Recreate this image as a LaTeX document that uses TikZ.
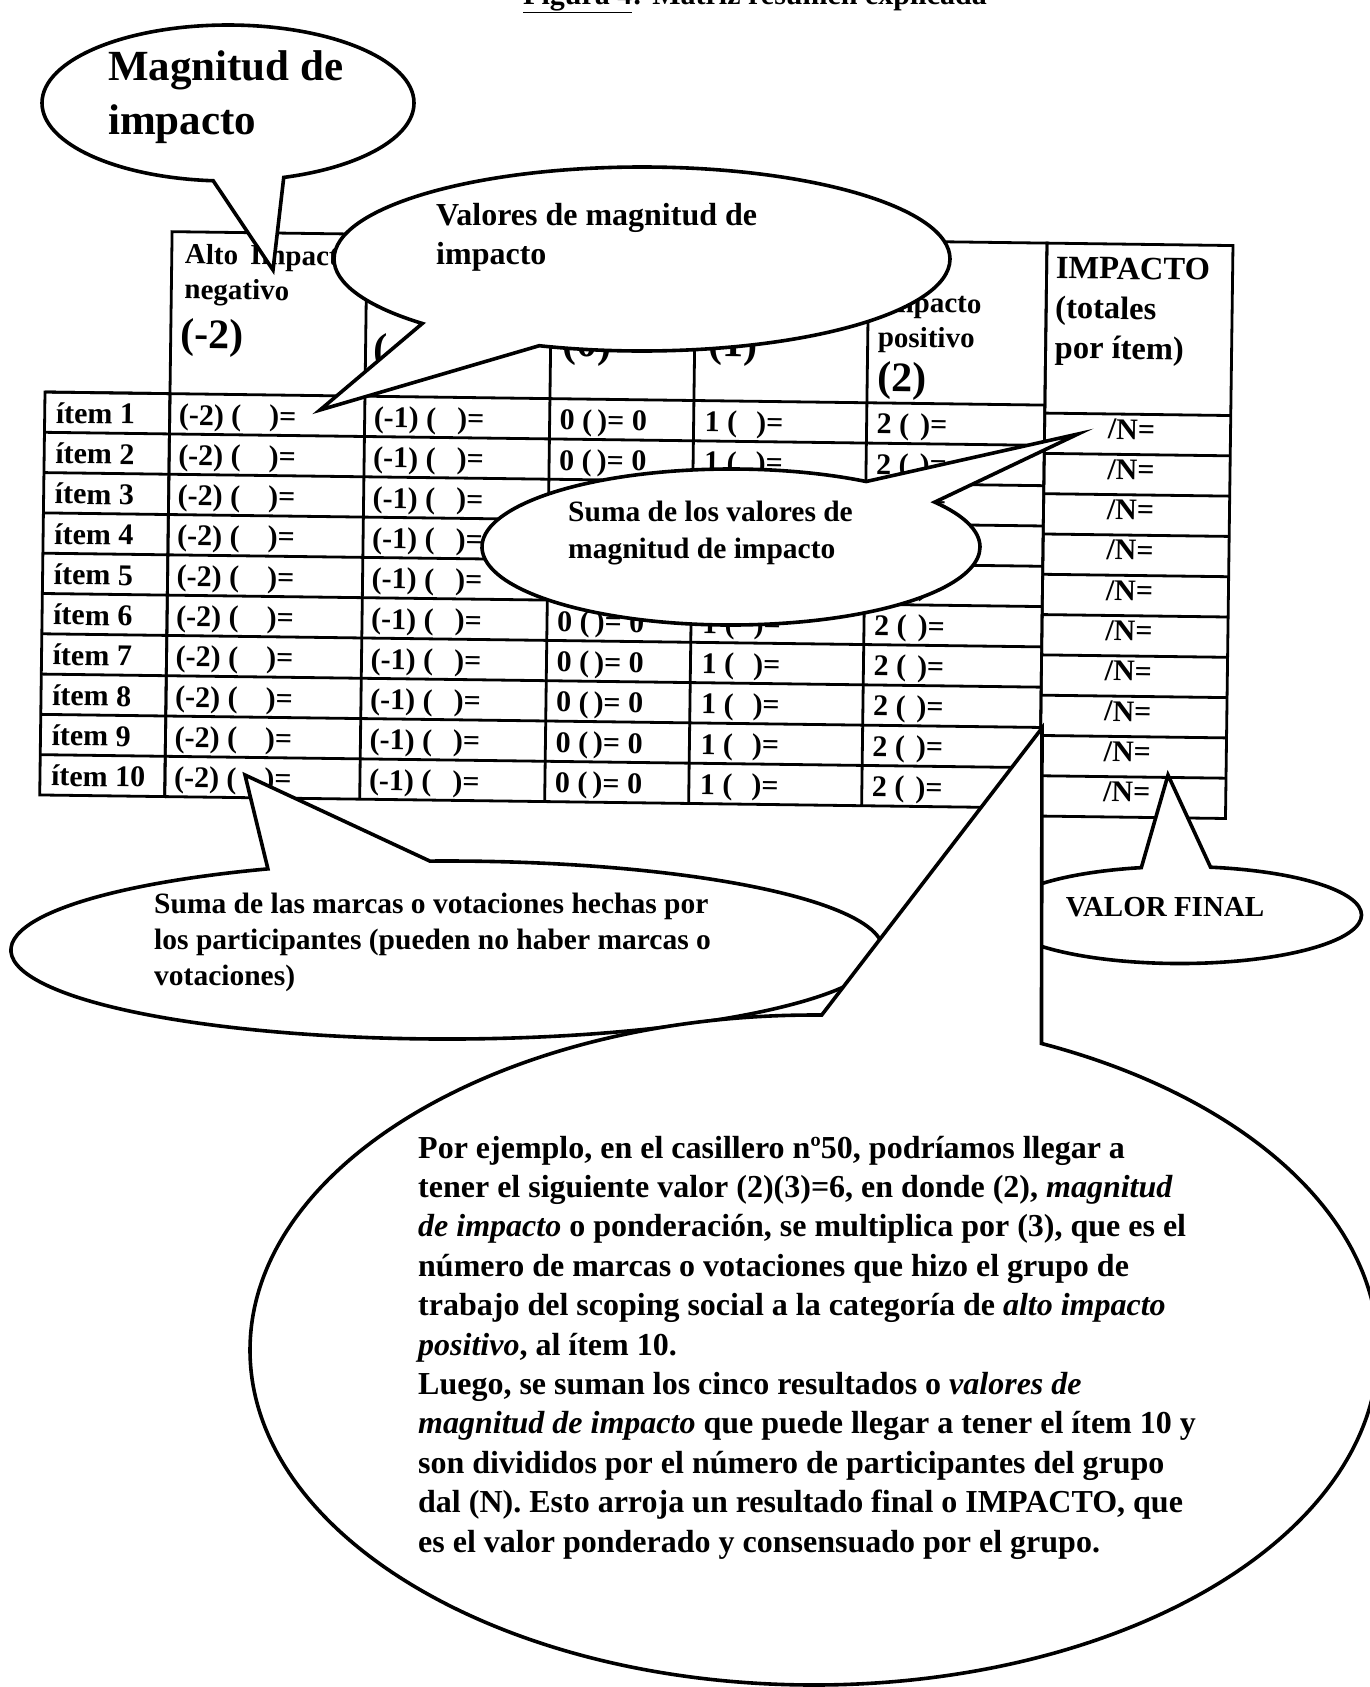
\documentclass[tikz,border=0pt]{standalone}
\usepackage{fontspec}
\setmainfont{Liberation Serif}
\usetikzlibrary{shapes.callouts}
\newcommand{\celfont}{\fontsize{30}{36}\selectfont\bfseries}
\newcommand{\hdrfont}{\fontsize{29}{35}\selectfont\bfseries}
\newcommand{\numfont}{\fontsize{42}{46}\selectfont\bfseries}
\begin{document}
\begin{tikzpicture}[x = 1pt, y = -1pt,
    grid/.style = {line width = 2.8pt},
    bubble/.style = {ellipse callout, draw, fill = white, line width = 3.6pt, inner sep = 0pt, outer sep = 0pt, align = left, callout pointer arc = 22},
    txt/.style = {inner sep = 0pt, align = left, anchor = base west}]
    \useasboundingbox (0, 0) rectangle (1369, 1687);
    \node [txt, font = \fontsize{30}{36}\selectfont\bfseries] (titulo) at (523, 4) {\underline{Figura 4}: Matriz resumen explicada};

    % matriz (algo torcida)
    \begin{scope}[rotate around = {-0.75:(45, 392)}, transform shape]
        \draw [grid] (170, 230) rectangle (1045, 795);
        \draw [grid] (45, 392) rectangle (170, 795);
        \foreach \x in {365, 550, 694, 867} \draw [grid] (\x, 230) -- (\x, 795);
        \foreach \k in {0, ..., 9} \draw [grid] (45, {392 + 40.3*\k}) -- (1045, {392 + 40.3*\k});
        \draw [grid] (1045, 230) rectangle (1231, 803);
        \foreach \k in {0, ..., 9} \draw [grid] (1045, {400 + 40.3*\k}) -- (1231, {400 + 40.3*\k});

        % base = ultima linea
        \node [txt, font = \hdrfont] (hneg) at (183, 297) {Alto\hspace{12pt}Impacto\\negativo};
        \node [txt, font = \numfont] (hm2) at (180, 346) {(-2)};
        \node [txt, font = \numfont] (hm1) at (373, 358) {(-1)};
        \node [txt, font = \numfont] (hcero) at (562, 350) {(0)};
        \node [txt, font = \numfont] (hp1) at (708, 348) {(1)};
        \node [txt, font = \hdrfont] (hpos) at (877, 336) {Impacto\\positivo};
        \node [txt, font = \numfont] (hp2) at (877, 380) {(2)};
        \node [txt, font = \fontsize{32.5}{40}\selectfont\bfseries] (himp) at (1054, 345) {IMPACTO\\(totales\\por ítem)};

        \foreach \k in {1, ..., 10} {
            \pgfmathsetmacro{\yb}{392 + 40.3*(\k - 1) + 31}
            \pgfmathsetmacro{\yi}{400 + 40.3*(\k - 1) + 25}
            \node [txt, font = \celfont] (item\k) at (56, \yb) {ítem \k};
            \node [txt, font = \celfont] (a\k) at (179, \yb) {(-2) (\hspace{28pt})=};
            \node [txt, font = \celfont] (b\k) at (374, \yb) {(-1) (\hspace{21pt})=};
            \node [txt, font = \celfont] (c\k) at (560, \yb) {0 (\hspace{5pt})= 0};
            \node [txt, font = \celfont] (d\k) at (705, \yb) {1 (\hspace{19pt})=};
            \node [txt, font = \celfont] (e\k) at (877, \yb) {2 (\hspace{11pt})=};
            \node [txt, anchor = base, font = \celfont] (n\k) at (1132, \yi) {/N=};
        }
    \end{scope}

    % globos
    \coordinate (pmag) at (273, 270);
    \node [bubble, minimum width = 372, minimum height = 156, callout absolute pointer = {(pmag)}] (magnitud) at (228, 103) {};
    \node [txt, font = \fontsize{43}{54}\selectfont\bfseries] (magnitudtxt) at (108, 134) {Magnitud de\\impacto};

    \coordinate (pval) at (320, 410);
    \node [bubble, minimum width = 616, minimum height = 184, callout pointer arc = 26, callout absolute pointer = {(pval)}] (valores) at (642, 259) {};
    \node [txt, font = \fontsize{32}{39}\selectfont\bfseries] (valorestxt) at (436, 264) {Valores de magnitud de\\impacto};

    \coordinate (psuma) at (1078, 434);
    \node [bubble, minimum width = 498, minimum height = 156, callout absolute pointer = {(psuma)}] (suma) at (731, 547) {};
    \node [txt, font = \fontsize{29.5}{37}\selectfont\bfseries] (sumatxt) at (568, 558) {Suma de los valores de\\magnitud de impacto};

    \coordinate (pmarcas) at (245, 775);
    \node [bubble, minimum width = 872, minimum height = 178, callout pointer arc = 22, callout absolute pointer = {(pmarcas)}] (marcas) at (447, 950) {};
    \node [txt, font = \fontsize{29.5}{36}\selectfont\bfseries] (marcastxt) at (154, 985) {Suma de las marcas o votaciones hechas por\\los participantes (pueden no haber marcas o\\votaciones)};

    \coordinate (pfinal) at (1168, 775);
    \node [bubble, minimum width = 363, minimum height = 97, callout absolute pointer = {(pfinal)}] (final) at (1180, 915) {};
    \node [inner sep = 0pt, font = \fontsize{29}{34}\selectfont\bfseries] (finaltxt) at (1165, 907) {VALOR FINAL};

    \coordinate (pejemplo) at (1042, 728);
    \node [bubble, minimum width = 1128, minimum height = 670, callout pointer arc = 23, callout absolute pointer = {(pejemplo)}] (ejemplo) at (814, 1350) {};
    \node [txt, font = \fontsize{32}{39.4}\selectfont\bfseries] (ejemplotxt) at (418, 1552) {Por ejemplo, en el casillero nº50, podríamos llegar a\\tener el siguiente valor (2)(3)=6, en donde (2), \textit{magnitud}\\\textit{de impacto} o ponderación, se multiplica por (3), que es el\\número de marcas o votaciones que hizo el grupo de\\trabajo del scoping social a la categoría de \textit{alto impacto}\\\textit{positivo}, al ítem 10.\\Luego, se suman los cinco resultados o \textit{valores de}\\\textit{magnitud de impacto} que puede llegar a tener el ítem 10 y\\son divididos por el número de participantes del grupo\\dal (N). Esto arroja un resultado final o IMPACTO, que\\es el valor ponderado y consensuado por el grupo.};
\end{tikzpicture}
\end{document}
